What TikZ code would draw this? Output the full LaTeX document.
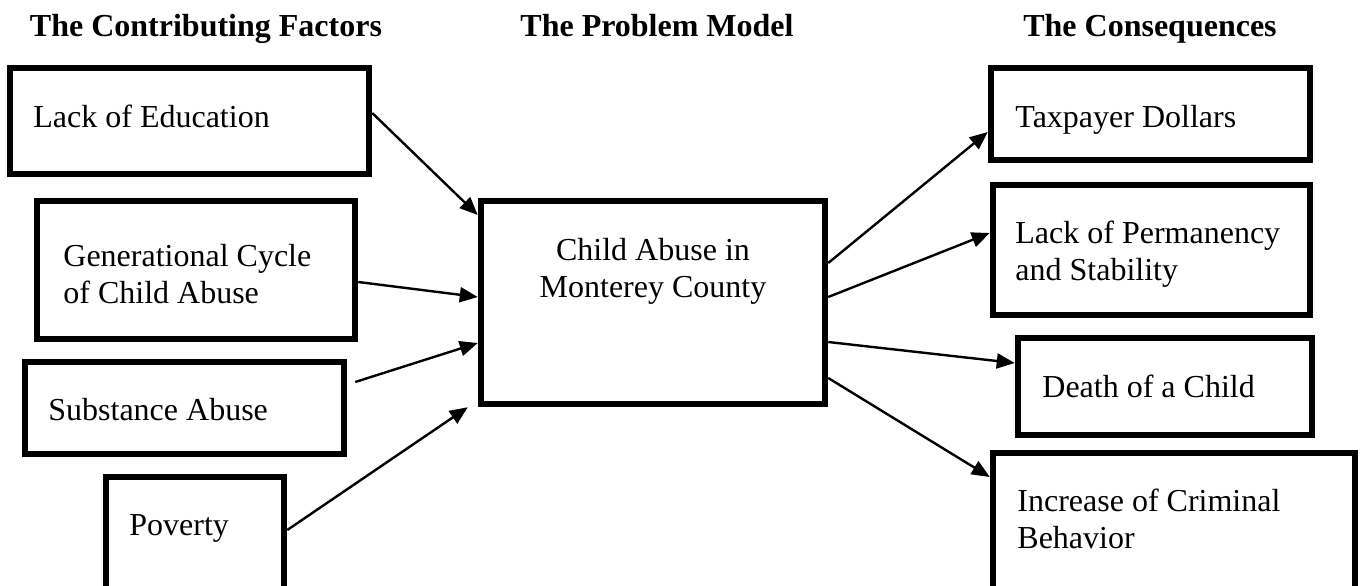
\documentclass[tikz,border=0pt]{standalone}
\usepackage{fontspec}
\setmainfont{Liberation Serif}
\usetikzlibrary{arrows.meta}
\begin{document}
\begin{tikzpicture}[x=0.5pt,y=-0.5pt,
  box/.style={draw=black,line width=3.25pt,inner sep=0pt,outer sep=1.625pt,rectangle,fill=white},
  lbl/.style={anchor=base west,inner sep=0pt,font=\fontsize{16pt}{18.3pt}\selectfont,align=left},
  clbl/.style={anchor=base,inner sep=0pt,font=\fontsize{16pt}{18.3pt}\selectfont,align=center},
  hdr/.style={anchor=base,inner sep=0pt,font=\fontsize{16pt}{18.3pt}\selectfont\bfseries},
  arr/.style={line width=1.2pt,-{Triangle[length=9pt,width=7.5pt]}}]
\useasboundingbox (0,0) rectangle (1361,585);
\clip (0,0) rectangle (1361,585);
\fill[white] (0,0) rectangle (1361,585);
% headers
\node[hdr] (h1) at (206,36) {The Contributing Factors};
\node[hdr] (h2) at (657,36) {The Problem Model};
\node[hdr] (h3) at (1150,36) {The Consequences};
% left boxes
\node[box,minimum width=179.5pt,minimum height=53pt] (edu) at (189.5,121) {};
\node[box,minimum width=159pt,minimum height=69pt] (gen) at (196,270) {};
\node[box,minimum width=159.5pt,minimum height=46pt] (sub) at (184.5,408) {};
\node[box,minimum width=89pt,minimum height=61.5pt] (pov) at (195,538.5) {};
% centre
\node[box,minimum width=172pt,minimum height=101.5pt] (main) at (653,302.5) {};
% right boxes
\node[box,minimum width=159.5pt,minimum height=46pt] (tax) at (1150.5,114) {};
\node[box,minimum width=158.5pt,minimum height=65pt] (perm) at (1151.5,250) {};
\node[box,minimum width=147pt,minimum height=48.5pt] (death) at (1165,386.5) {};
\node[box,minimum width=181pt,minimum height=73.5pt] (crim) at (1174,526.5) {};
% texts (multi-line nodes: base = last line)
\node[lbl] (tedu) at (33,127) {Lack of Education};
\node[lbl] (tgen) at (63,303) {Generational Cycle\\of Child Abuse};
\node[lbl] (tsub) at (48,420) {Substance Abuse};
\node[lbl] (tpov) at (129,535) {Poverty};
\node[clbl] (tmain) at (653,297) {Child Abuse in\\Monterey County};
\node[lbl] (ttax) at (1015,127) {Taxpayer Dollars};
\node[lbl] (tperm) at (1015,280) {Lack of Permanency\\and Stability};
\node[lbl] (tdeath) at (1042,397) {Death of a Child};
\node[lbl] (tcrim) at (1017,548) {Increase of Criminal\\Behavior};
% arrows in
\draw[arr] (edu.east |- 0,113) -- (main.west |- 0,215);
\draw[arr] (gen.east |- 0,282) -- (main.west |- 0,297);
\draw[arr] ([xshift=4pt]sub.east |- 0,382) -- (main.west |- 0,343);
\draw[arr] (pov.east |- 0,530) -- ([xshift=-5pt]main.south west);
% arrows out
\draw[arr] (main.east |- 0,263) -- (tax.west |- 0,132);
\draw[arr] (main.east |- 0,297) -- (perm.west |- 0,233);
\draw[arr] (main.east |- 0,342) -- (death.west |- 0,363);
\draw[arr] (main.east |- 0,378) -- (crim.west |- 0,477);
\end{tikzpicture}
\end{document}
